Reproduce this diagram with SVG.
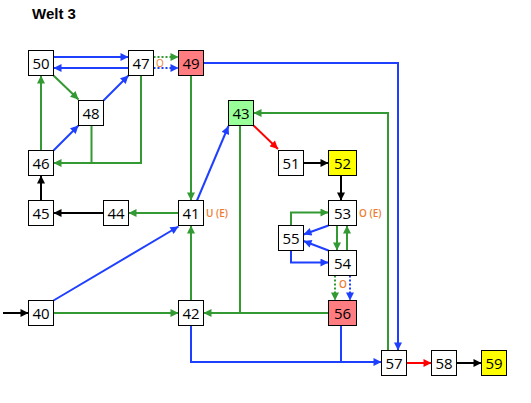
<svg xmlns="http://www.w3.org/2000/svg" width="531" height="403" viewBox="0 0 531 403">
<style>
.n rect{stroke:#000;stroke-width:1;fill:#fff}
.n text{font-family:"Open Sans","Liberation Sans",sans-serif;font-size:15px;fill:#000;text-anchor:middle}
.c path{fill:none;stroke-width:2}
.k{stroke:#000}.b{stroke:#1f3fff}.g{stroke:#339933}.r{stroke:#ff0000}
.d{stroke-dasharray:2,2}
.lbl{font-family:"Open Sans","Liberation Sans",sans-serif;font-size:10px;fill:#ed7d31;font-weight:600}
</style>
<defs>
<marker id="ak" viewBox="0 0 10 10" refX="10" refY="5" markerWidth="9" markerHeight="8" markerUnits="userSpaceOnUse" orient="auto"><path d="M0,0L10,5L0,10z" fill="#000"/></marker>
<marker id="ab" viewBox="0 0 10 10" refX="10" refY="5" markerWidth="9" markerHeight="8" markerUnits="userSpaceOnUse" orient="auto"><path d="M0,0L10,5L0,10z" fill="#1f3fff"/></marker>
<marker id="ag" viewBox="0 0 10 10" refX="10" refY="5" markerWidth="9" markerHeight="8" markerUnits="userSpaceOnUse" orient="auto"><path d="M0,0L10,5L0,10z" fill="#339933"/></marker>
<marker id="ar" viewBox="0 0 10 10" refX="10" refY="5" markerWidth="9" markerHeight="8" markerUnits="userSpaceOnUse" orient="auto"><path d="M0,0L10,5L0,10z" fill="#ff0000"/></marker>
</defs>
<rect width="531" height="403" fill="#fff"/>
<text x="32" y="19" font-family="'Liberation Sans',Arial,sans-serif" font-size="15" font-weight="bold">Welt 3</text>
<g class="c">
<path class="b" d="M53.5,57H128.5" marker-end="url(#ab)"/>
<path class="b" d="M128.5,68H53.5" marker-end="url(#ab)"/>
<path class="g d" d="M153.5,57H178.5" marker-end="url(#ag)"/>
<path class="b d" d="M153.5,68H178.5" marker-end="url(#ab)"/>
<path class="b" d="M203.5,63H398V350.5" marker-end="url(#ab)"/>
<path class="g" d="M191,75.5V200.5" marker-end="url(#ag)"/>
<path class="g" d="M53.5,75.5L78.5,99.5" marker-end="url(#ag)"/>
<path class="b" d="M103.5,100.5L128.5,75.5" marker-end="url(#ab)"/>
<path class="b" d="M53.5,150.5L78.5,125.5" marker-end="url(#ab)"/>
<path class="g" d="M41,150.5V75.5" marker-end="url(#ag)"/>
<path class="g" d="M141,75.5V163H53.5" marker-end="url(#ag)"/>
<path class="g" d="M91.5,125.5V163"/>
<path class="k" d="M41,200.5V175.5" marker-end="url(#ak)"/>
<path class="k" d="M103.5,213H53.5" marker-end="url(#ak)"/>
<path class="g" d="M178.5,213H128.5" marker-end="url(#ag)"/>
<path class="b" d="M197,200.5L228.5,126" marker-end="url(#ab)"/>
<path class="r" d="M253.5,125.5L278,149" marker-end="url(#ar)"/>
<path class="k" d="M303.5,163H328.5" marker-end="url(#ak)"/>
<path class="k" d="M341,175.5V200.5" marker-end="url(#ak)"/>
<path class="g" d="M388,350.5V113H253.5" marker-end="url(#ag)"/>
<path class="g" d="M337,225.5V250.5" marker-end="url(#ag)"/>
<path class="g" d="M347,250.5V225.5" marker-end="url(#ag)"/>
<path class="b" d="M328.5,225.5L303.5,234.5" marker-end="url(#ab)"/>
<path class="b" d="M328.5,250.5L303.5,241" marker-end="url(#ab)"/>
<path class="g" d="M291,225.5V212.5H328.5" marker-end="url(#ag)"/>
<path class="b" d="M291,250.5V262.5H328.5" marker-end="url(#ab)"/>
<path class="g d" d="M335,275.5V300.5" marker-end="url(#ag)"/>
<path class="b d" d="M350,275.5V300.5" marker-end="url(#ab)"/>
<path class="g" d="M328.5,313H203.5" marker-end="url(#ag)"/>
<path class="g" d="M240,125.5V313"/>
<path class="b" d="M191,325.5V362H381.5" marker-end="url(#ab)"/>
<path class="b" d="M341,325.5V362"/>
<path class="r" d="M406.5,363H431.5" marker-end="url(#ar)"/>
<path class="k" d="M456.5,363H481.5" marker-end="url(#ak)"/>
<path class="b" d="M53.5,300.5L178.5,226.5" marker-end="url(#ab)"/>
<path class="g" d="M53.5,313H178.5" marker-end="url(#ag)"/>
<path class="g" d="M191,300.5V225.5" marker-end="url(#ag)"/>
<path class="k" d="M3,313H28.5" marker-end="url(#ak)"/>
</g>
<g id="n50" class="n"><rect x="28.5" y="50.5" width="25" height="25"/><text x="41" y="68.5">50</text></g>
<g id="n47" class="n"><rect x="128.5" y="50.5" width="25" height="25"/><text x="141" y="68.5">47</text></g>
<g id="n49" class="n"><rect x="178.5" y="50.5" width="25" height="25" style="fill:#ff7c80"/><text x="191" y="68.5">49</text></g>
<g id="n48" class="n"><rect x="78.5" y="100.5" width="25" height="25"/><text x="91" y="118.5">48</text></g>
<g id="n43" class="n"><rect x="228.5" y="100.5" width="25" height="25" style="fill:#99ff99"/><text x="241" y="118.5">43</text></g>
<g id="n46" class="n"><rect x="28.5" y="150.5" width="25" height="25"/><text x="41" y="168.5">46</text></g>
<g id="n51" class="n"><rect x="278.5" y="150.5" width="25" height="25"/><text x="291" y="168.5">51</text></g>
<g id="n52" class="n"><rect x="328.5" y="150.5" width="28" height="25" style="fill:#ffff00"/><text x="342.5" y="168.5">52</text></g>
<g id="n45" class="n"><rect x="28.5" y="200.5" width="25" height="25"/><text x="41" y="218.5">45</text></g>
<g id="n44" class="n"><rect x="103.5" y="200.5" width="25" height="25"/><text x="116" y="218.5">44</text></g>
<g id="n41" class="n"><rect x="178.5" y="200.5" width="25" height="25"/><text x="191" y="218.5">41</text></g>
<g id="n53" class="n"><rect x="328.5" y="200.5" width="28" height="25"/><text x="342.5" y="218.5">53</text></g>
<g id="n55" class="n"><rect x="278.5" y="225.5" width="25" height="25"/><text x="291" y="243.5">55</text></g>
<g id="n54" class="n"><rect x="328.5" y="250.5" width="28" height="25"/><text x="342.5" y="268.5">54</text></g>
<g id="n40" class="n"><rect x="28.5" y="300.5" width="25" height="25"/><text x="41" y="318.5">40</text></g>
<g id="n42" class="n"><rect x="178.5" y="300.5" width="25" height="25"/><text x="191" y="318.5">42</text></g>
<g id="n56" class="n"><rect x="328.5" y="300.5" width="28" height="25" style="fill:#ff7c80"/><text x="342.5" y="318.5">56</text></g>
<g id="n57" class="n"><rect x="381.5" y="350.5" width="25" height="25"/><text x="394" y="368.5">57</text></g>
<g id="n58" class="n"><rect x="431.5" y="350.5" width="25" height="25"/><text x="444" y="368.5">58</text></g>
<g id="n59" class="n"><rect x="481.5" y="350.5" width="25" height="25" style="fill:#ffff00"/><text x="494" y="368.5">59</text></g>
<g id="labels">
<text class="lbl" x="156" y="67" style="font-weight:normal">O</text>
<text class="lbl" x="206" y="217">U (E)</text>
<text class="lbl" x="359" y="217">O (E)</text>
<text class="lbl" x="339" y="288">O</text>
</g>
</svg>
